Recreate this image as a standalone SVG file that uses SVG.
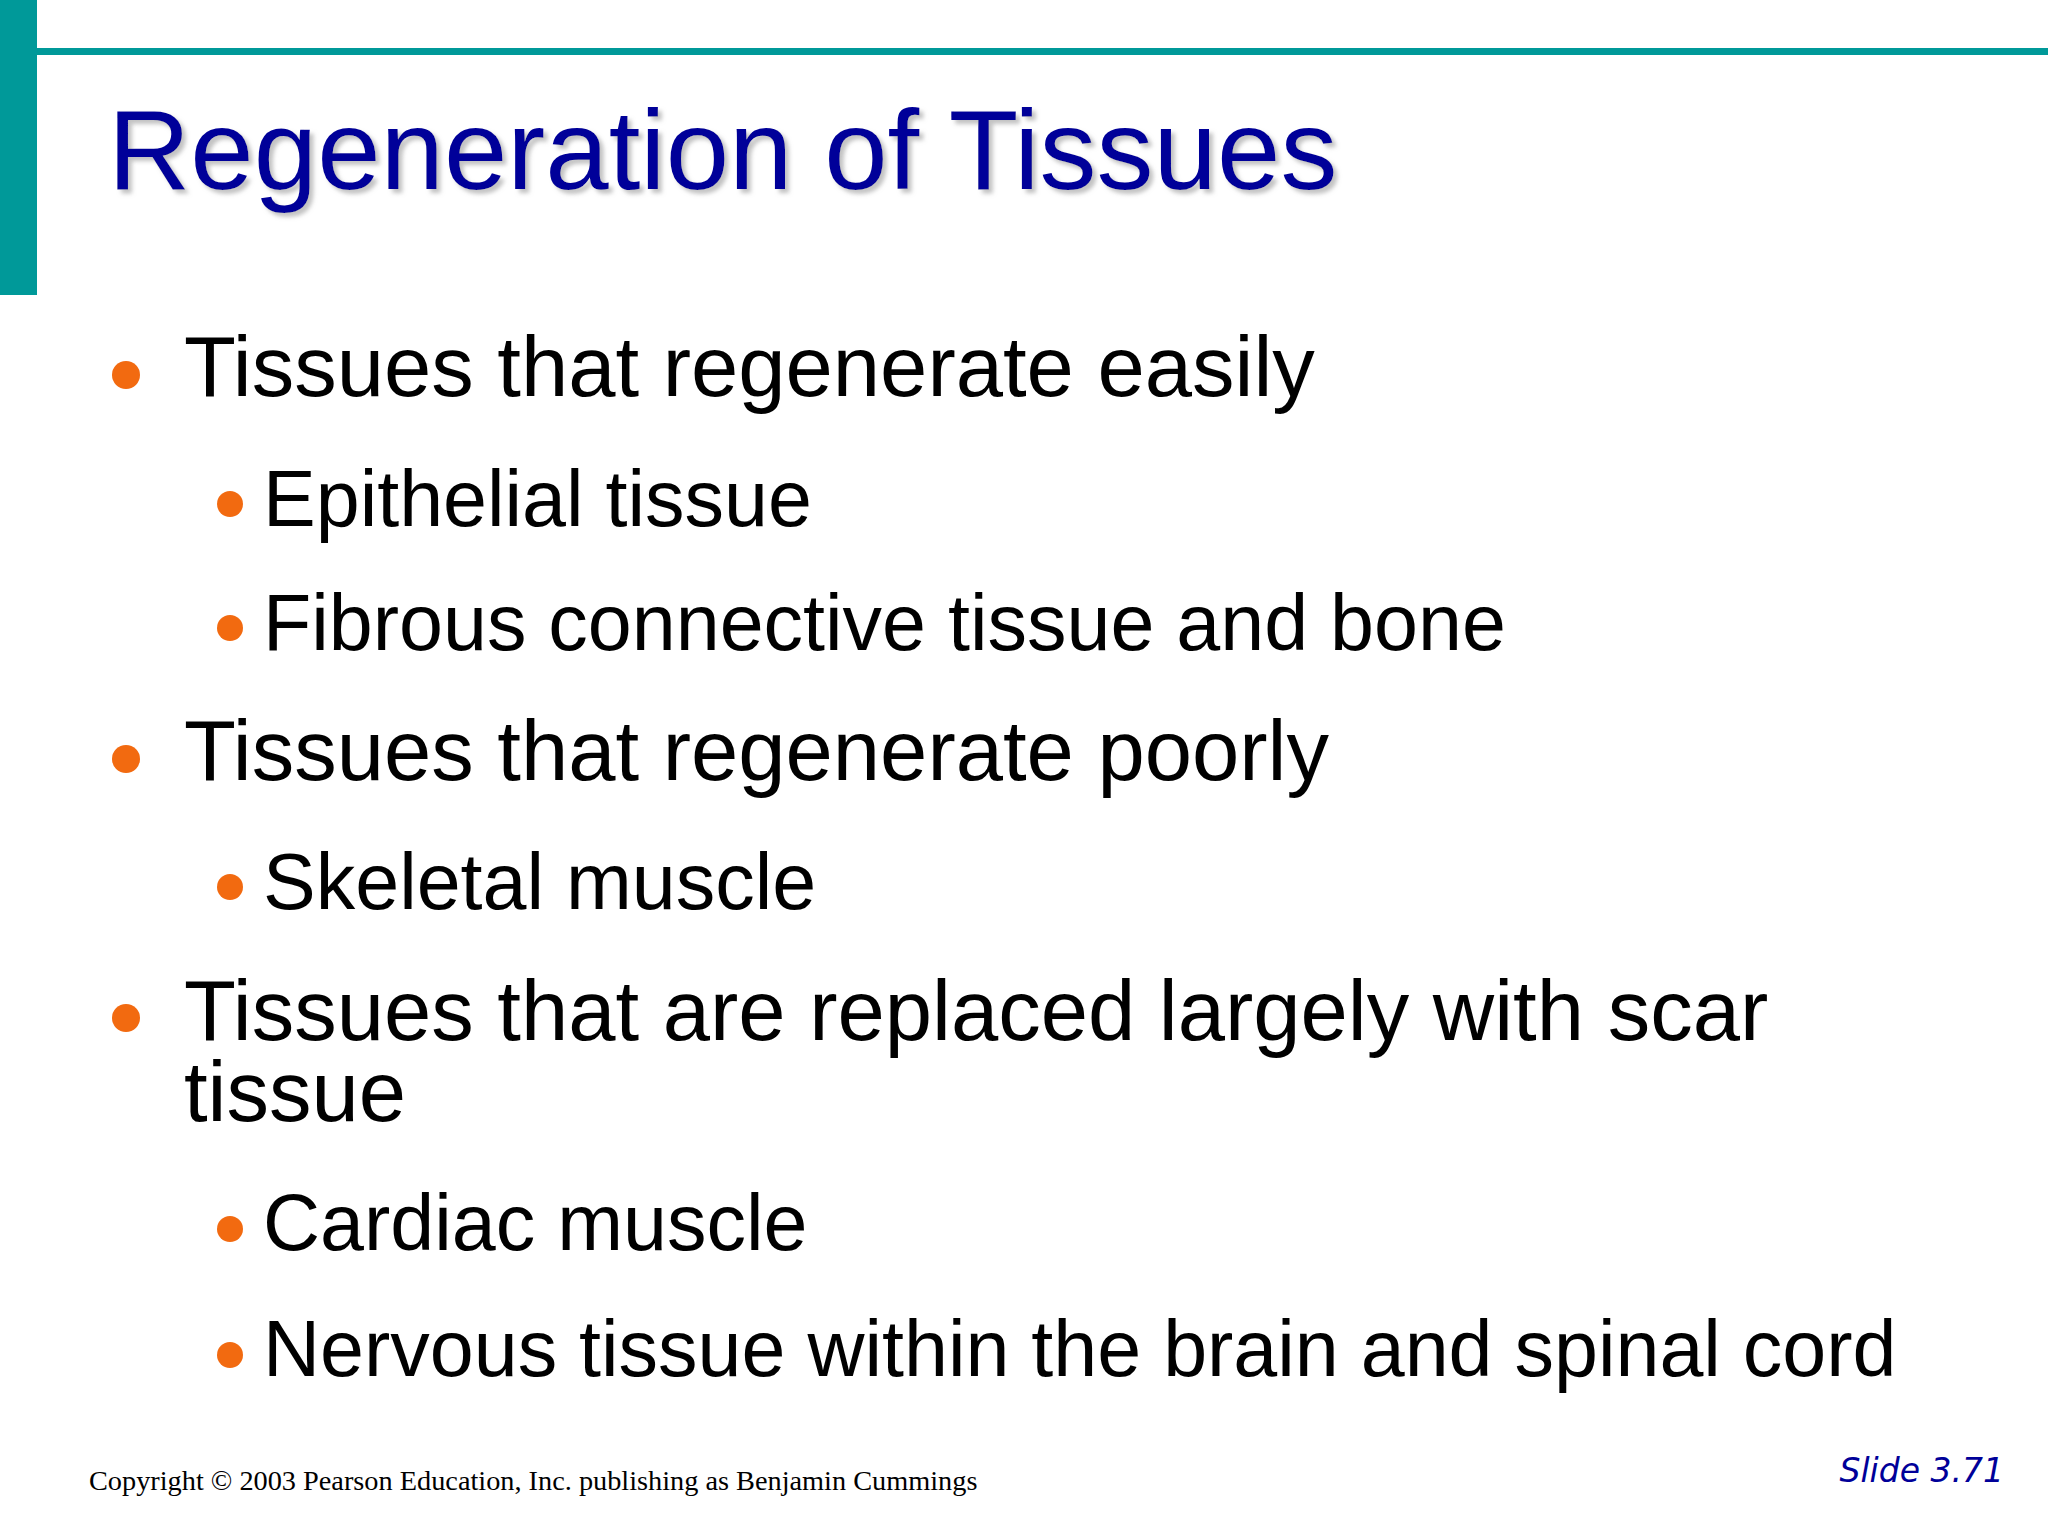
<svg xmlns="http://www.w3.org/2000/svg" width="2048" height="1536" viewBox="0 0 2048 1536">
<defs>
<style>
.m{font-family:"Liberation Sans",Arial,sans-serif;font-size:85px;fill:#000}
.s{font-family:"Liberation Sans",Arial,sans-serif;font-size:79px;fill:#000}
.d{fill:#f26a10}
</style>
<filter id="sh" x="-5%" y="-20%" width="110%" height="140%"><feDropShadow dx="4" dy="4" stdDeviation="2" flood-color="#999" flood-opacity="0.6"/></filter>
</defs>
<rect width="2048" height="1536" fill="#fff"/>
<rect x="0" y="0" width="37" height="295" fill="#009999"/>
<rect x="37" y="48" width="2011" height="7" fill="#009999"/>
<text x="108" y="189" font-family="Liberation Sans,Arial,sans-serif" font-size="114" fill="#000099" filter="url(#sh)">Regeneration of Tissues</text>
<g id="b1"><circle class="d" cx="126" cy="375" r="14"/><text class="m" x="184" y="396">Tissues that regenerate easily</text></g>
<g id="b2"><circle class="d" cx="230" cy="504" r="13"/><text class="s" x="263" y="526">Epithelial tissue</text></g>
<g id="b3"><circle class="d" cx="230" cy="628" r="13"/><text class="s" x="263" y="650">Fibrous connective tissue and bone</text></g>
<g id="b4"><circle class="d" cx="126" cy="759" r="14"/><text class="m" x="184" y="780">Tissues that regenerate poorly</text></g>
<g id="b5"><circle class="d" cx="230" cy="887" r="13"/><text class="s" x="263" y="909">Skeletal muscle</text></g>
<g id="b6"><circle class="d" cx="126" cy="1018" r="14"/><text class="m" x="184" y="1040">Tissues that are replaced largely with scar</text><text class="m" x="184" y="1121">tissue</text></g>
<g id="b7"><circle class="d" cx="230" cy="1229" r="13"/><text class="s" x="263" y="1250">Cardiac muscle</text></g>
<g id="b8"><circle class="d" cx="230" cy="1355" r="13"/><text class="s" x="263" y="1376">Nervous tissue within the brain and spinal cord</text></g>
<text x="89" y="1490" font-family="Liberation Serif,Times New Roman,serif" font-size="28.3" fill="#000">Copyright © 2003 Pearson Education, Inc. publishing as Benjamin Cummings</text>
<text x="2004" y="1482" text-anchor="end" font-family="DejaVu Sans,Verdana,sans-serif" font-style="italic" font-size="33" fill="#000099">Slide 3.71</text>
</svg>
